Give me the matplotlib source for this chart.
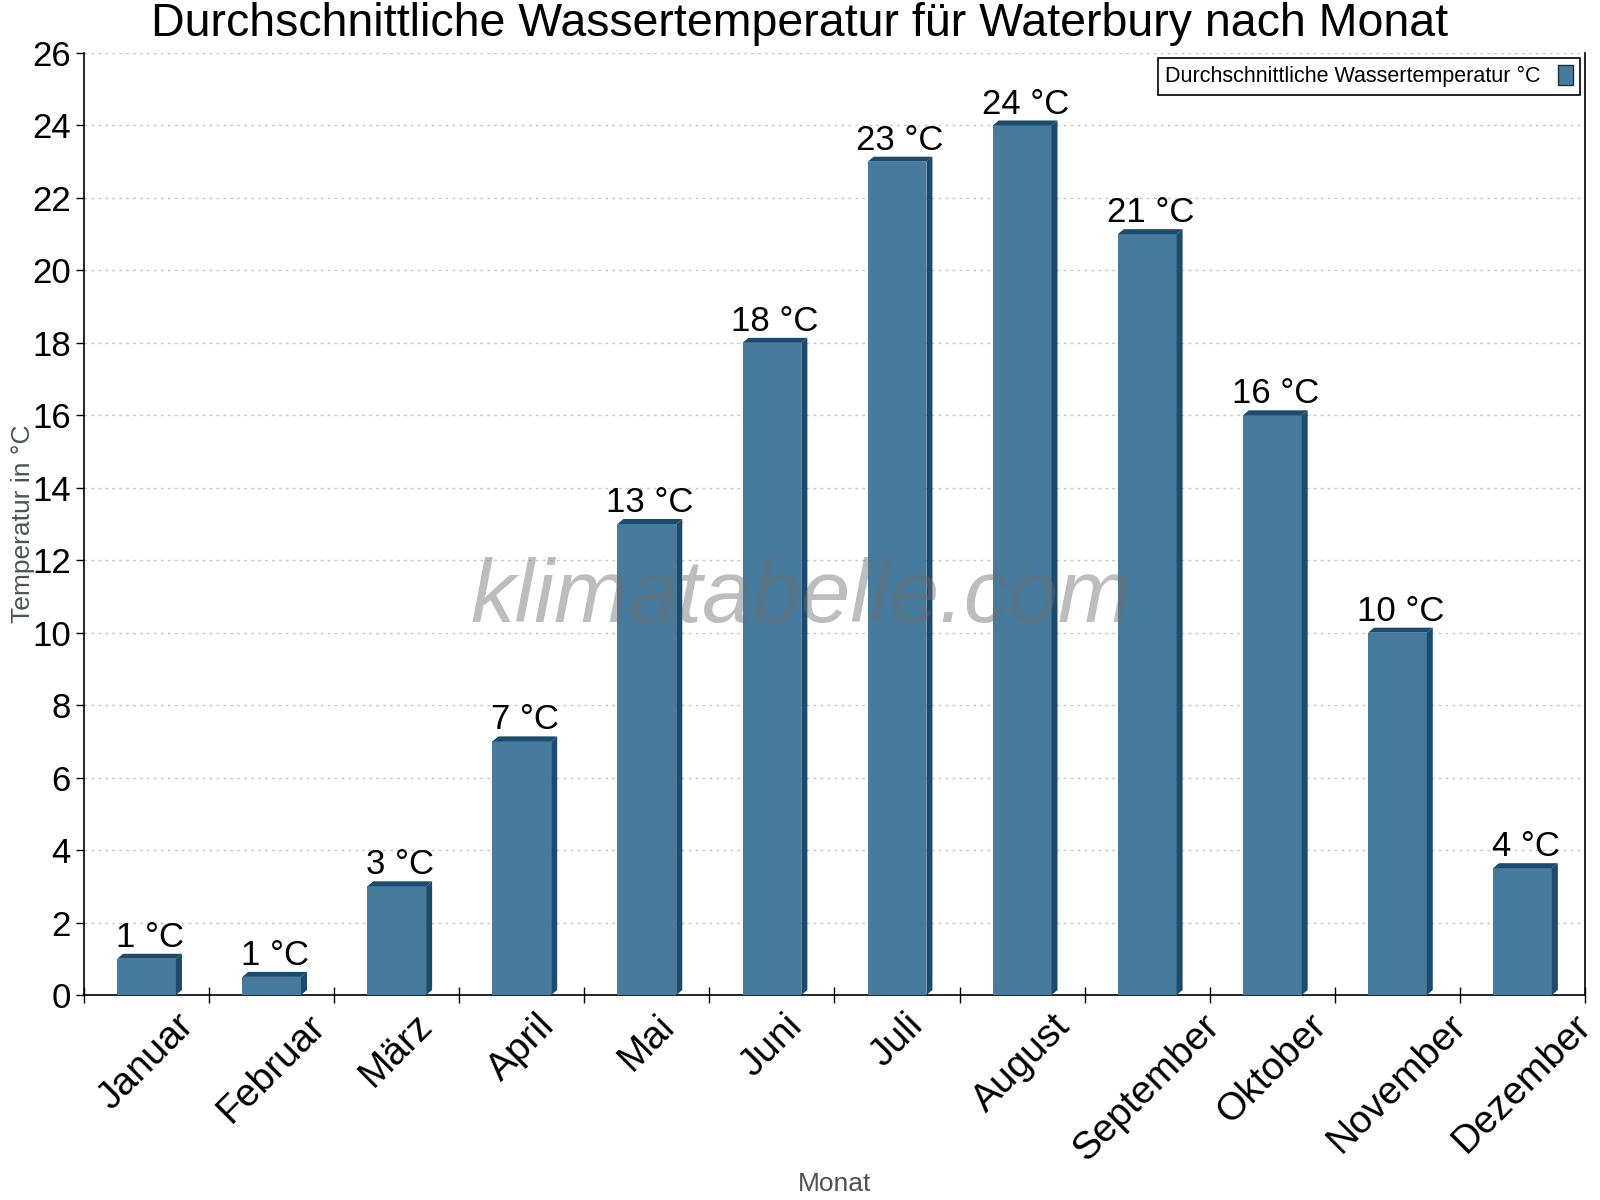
import numpy as np
import matplotlib
matplotlib.use('Agg')
import matplotlib.pyplot as plt
from matplotlib.patches import Polygon, Rectangle

# data

months = ['Januar', 'Februar', 'März', 'April', 'Mai', 'Juni', 'Juli',
          'August', 'September', 'Oktober', 'November', 'Dezember']
temps = [1.0, 0.5, 3.0, 7.0, 13.0, 18.0, 23.0, 24.0, 21.0, 16.0, 10.0, 3.5]
labels = ['1 °C', '1 °C', '3 °C', '7 °C', '13 °C', '18 °C', '23 °C',
          '24 °C', '21 °C', '16 °C', '10 °C', '4 °C']
yticks = list(range(0, 27, 2))

front = '#467b9d'
dark = '#1b4b6d'

plt.rcParams['font.family'] = ['Liberation Sans', 'DejaVu Sans']

fig = plt.figure(figsize=(16, 12), dpi=100)
ax = fig.add_axes([84 / 1600, 1 - 995 / 1200, 1501 / 1600, 942 / 1200])

x = np.arange(len(months))
width = 0.47
dx = 0.048   # 3d depth in category units
dy = 0.138   # 3d depth in degrees

ax.bar(x, temps, width=width, color=front, zorder=3)

# fake 3d: top and right side
for xi, h in zip(x, temps):
    x0 = xi - width / 2
    x1 = xi + width / 2
    top = Polygon([(x0, h), (x1, h), (x1 + dx, h + dy), (x0 + dx, h + dy)],
                  closed=True, facecolor=dark, edgecolor='none', zorder=3)
    side = Polygon([(x1, 0), (x1, h), (x1 + dx, h + dy), (x1 + dx, dy)],
                   closed=True, facecolor=dark, edgecolor='none', zorder=3)
    ax.add_patch(top)
    ax.add_patch(side)

# value labels
for xi, h, lab in zip(x, temps, labels):
    ax.annotate(lab, (xi + dx / 2, h + dy), xytext=(0, 5), textcoords='offset points',
                ha='center', va='baseline', fontsize=25, zorder=5)

ax.set_xlim(-0.5, len(months) - 0.5)
ax.set_ylim(0, 26)
ax.set_yticks(yticks)
ax.tick_params(axis='y', labelsize=25, direction='out', length=6, width=1)

# ticks at the category borders, labels under the bars
ax.set_xticks(np.arange(-0.5, len(months), 1))
ax.set_xticklabels([''] * (len(months) + 1))
ax.tick_params(axis='x', which='major', direction='inout', length=12, width=1)
ax.set_xticks(x, minor=True)
ax.set_xticklabels(months, minor=True, fontsize=28, rotation=45, ha='center', va='top')
ax.tick_params(axis='x', which='minor', length=0, pad=9)

ax.grid(axis='y', linestyle=(0, (2, 3)), color='#c8c8c8', linewidth=1, zorder=0)
ax.spines['top'].set_visible(False)
for s in ['left', 'right', 'bottom']:
    ax.spines[s].set_linewidth(1.2)

ax.set_ylabel('Temperatur in °C', fontsize=19, color='#4d5359', labelpad=-2)
ax.set_xlabel('Monat', fontsize=19, color='#4d5359')
ax.xaxis.set_label_coords(0.5, -0.188)

fig.text(0.5, 0.998, 'Durchschnittliche Wassertemperatur für Waterbury nach Monat',
         ha='center', va='top', fontsize=33.5)

# watermark
ax.text(0.478, 0.42, 'klimatabelle.com', transform=ax.transAxes, ha='center', va='center',
        fontsize=64, style='italic', color='#6e6e6e', alpha=0.45, zorder=6)

handle = Rectangle((0, 0), 1, 1, facecolor=front, edgecolor='#1a3040', linewidth=1)
leg = ax.legend([handle], ['Durchschnittliche Wassertemperatur °C'], loc='upper right',
                bbox_to_anchor=(0.997, 0.995), markerfirst=False, fontsize=15.5,
                fancybox=False, framealpha=1, edgecolor='black', handlelength=0.7,
                handleheight=1.0, borderpad=0.35, borderaxespad=0)
leg.get_frame().set_linewidth(1.2)

plt.savefig('out.png', dpi=100)
